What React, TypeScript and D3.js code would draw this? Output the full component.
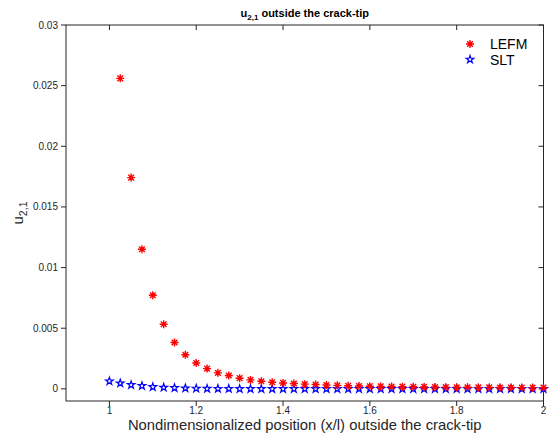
import React from "react";
import * as d3 from "d3";

// Position along the line ahead of the crack tip (x/l)
const xLEFM = [1.025, 1.05, 1.075, 1.1, 1.125, 1.15, 1.175, 1.2, 1.225, 1.25, 1.275, 1.3, 1.325, 1.35, 1.375, 1.4, 1.425, 1.45, 1.475, 1.5, 1.525, 1.55, 1.575, 1.6, 1.625, 1.65, 1.675, 1.7, 1.725, 1.75, 1.775, 1.8, 1.825, 1.85, 1.875, 1.9, 1.925, 1.95, 1.975, 2.0];
const uLEFM = [0.0256, 0.01742, 0.01151, 0.00772, 0.00533, 0.00382, 0.00281, 0.00213, 0.00167, 0.00132, 0.0011, 0.00088, 0.00074, 0.00063, 0.00055, 0.00049, 0.00044, 0.00039, 0.00036, 0.00032, 0.00029, 0.00026, 0.00024, 0.00022, 0.0002, 0.00019, 0.00018, 0.00017, 0.00016, 0.00015, 0.00014, 0.00013, 0.00013, 0.00012, 0.00012, 0.00011, 0.00011, 0.0001, 0.0001, 0.0001];

const xSLT = [1.0, 1.025, 1.05, 1.075, 1.1, 1.125, 1.15, 1.175, 1.2, 1.225, 1.25, 1.275, 1.3, 1.325, 1.35, 1.375, 1.4, 1.425, 1.45, 1.475, 1.5, 1.525, 1.55, 1.575, 1.6, 1.625, 1.65, 1.675, 1.7, 1.725, 1.75, 1.775, 1.8, 1.825, 1.85, 1.875, 1.9, 1.925, 1.95, 1.975, 2.0];
const uSLT = [0.00063, 0.00046, 0.00033, 0.00025, 0.00016, 0.00011, 0.00008, 0.00005, 0.00003, 0.00002, 0.00001, 0.00001, 0, 0, 0, 0, 0, 0, 0, 0, 0, 0, 0, 0, 0, 0, 0, 0, 0, 0, 0, 0, 0, 0, 0, 0, 0, 0, 0, 0, 0];

const xTicks = [1, 1.2, 1.4, 1.6, 1.8, 2];
const yTicks = [0, 0.005, 0.01, 0.015, 0.02, 0.025, 0.03];
const seriesNames = ["LEFM", "SLT"];

const W = 549;
const H = 436;
const left = 66;
const right = 543.5;
const top = 25;
const bottom = 401;
const font = "'Liberation Sans', Arial, Helvetica, sans-serif";

const x = d3.scaleLinear().domain([0.9, 2]).range([left, right]);
const y = d3.scaleLinear().domain([-0.001, 0.03]).range([bottom, top]);

function asterisk(cx: number, cy: number, r: number) {
  const d = r * Math.SQRT1_2;
  return `M${cx - r},${cy}H${cx + r}M${cx},${cy - r}V${cy + r}M${cx - d},${cy - d}L${cx + d},${cy + d}M${cx - d},${cy + d}L${cx + d},${cy - d}`;
}

function pentagram(cx: number, cy: number, r: number) {
  const ri = r * 0.382;
  const pts: string[] = [];
  for (let i = 0; i < 10; i++) {
    const a = -Math.PI / 2 + (i * Math.PI) / 5;
    const rr = i % 2 === 0 ? r : ri;
    pts.push(`${(cx + rr * Math.cos(a)).toFixed(2)},${(cy + rr * Math.sin(a)).toFixed(2)}`);
  }
  return "M" + pts.join("L") + "Z";
}

const fmt = (v: number) => (v === 0 ? "0" : String(v));

export default function App() {
  return (
    <svg width={W} height={H} style={{ position: "absolute", left: 0, top: 0, background: "#fff" }} fontFamily={font}>
      {/* plot box */}
      <rect x={left} y={top} width={right - left} height={bottom - top} fill="none" stroke="#262626" strokeWidth={1} />

      {/* x ticks: outward on bottom, inward on top */}
      {xTicks.map((t) => (
        <g key={"x" + t}>
          <line x1={x(t)} x2={x(t)} y1={bottom} y2={bottom + 5} stroke="#262626" />
          <line x1={x(t)} x2={x(t)} y1={top} y2={top + 5} stroke="#262626" />
          <text x={x(t)} y={bottom + 13} fontSize={10} textAnchor="middle" fill="#262626">
            {fmt(t)}
          </text>
        </g>
      ))}

      {/* y ticks: outward on left, inward on right */}
      {yTicks.map((t) => (
        <g key={"y" + t}>
          <line x1={left - 5} x2={left} y1={y(t)} y2={y(t)} stroke="#262626" />
          <line x1={right - 5} x2={right} y1={y(t)} y2={y(t)} stroke="#262626" />
          <text x={left - 8} y={y(t) + 3.5} fontSize={10} textAnchor="end" fill="#262626">
            {fmt(t)}
          </text>
        </g>
      ))}

      {/* SLT series */}
      {xSLT.map((xv, i) => (
        <path key={"s" + i} d={pentagram(x(xv), y(uSLT[i]), 4)} fill="none" stroke="#0000ff" strokeWidth={1.2} />
      ))}

      {/* LEFM series */}
      {xLEFM.map((xv, i) => (
        <path key={"l" + i} d={asterisk(x(xv), y(uLEFM[i]), 4)} fill="none" stroke="#ff0000" strokeWidth={1.4} />
      ))}

      {/* legend */}
      <path d={asterisk(470, 44, 4)} fill="none" stroke="#ff0000" strokeWidth={1.4} />
      <text x={490} y={49} fontSize={14} fill="#000">
        {seriesNames[0]}
      </text>
      <path d={pentagram(470, 59.5, 4)} fill="none" stroke="#0000ff" strokeWidth={1.2} />
      <text x={490} y={64.5} fontSize={14} fill="#000">
        {seriesNames[1]}
      </text>

      {/* title */}
      <text x={(left + right) / 2} y={17} fontSize={11} fontWeight="bold" textAnchor="middle" fill="#000">
        u<tspan fontSize={8} dy={3}>2,1</tspan>
        <tspan dy={-3}> outside the crack-tip</tspan>
      </text>

      {/* axis labels */}
      <text x={(left + right) / 2} y={430} fontSize={14.8} textAnchor="middle" fill="#262626">
        Nondimensionalized position (x/l) outside the crack-tip
      </text>
      <text transform={`translate(23,${(top + bottom) / 2}) rotate(-90)`} fontSize={15} textAnchor="middle" fill="#262626">
        u<tspan fontSize={10.5} dy={4}>2,1</tspan>
      </text>
    </svg>
  );
}
